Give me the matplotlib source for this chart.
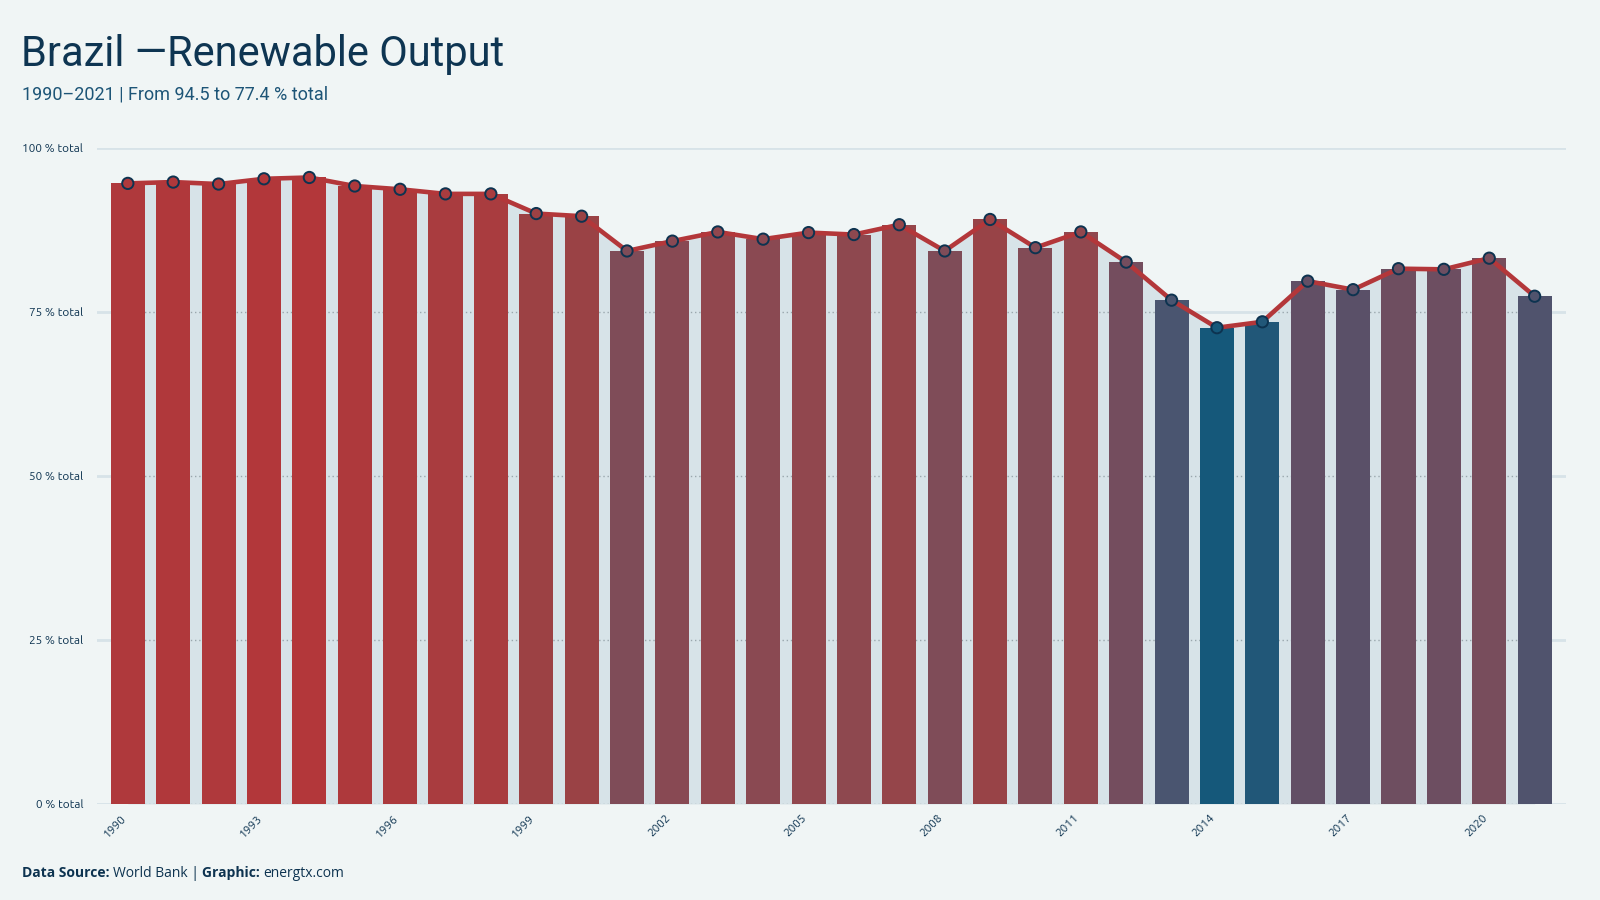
import numpy as np
import matplotlib.pyplot as plt
from matplotlib.colors import LinearSegmentedColormap

years = list(range(1990, 2022))
renewable_share = [94.6, 94.8, 94.5, 95.3, 95.5, 94.2, 93.7, 93.0, 93.0, 90.0,
                   89.6, 84.3, 85.8, 87.2, 86.1, 87.1, 86.8, 88.3, 84.3, 89.1,
                   84.8, 87.2, 82.6, 76.8, 72.6, 73.5, 79.7, 78.4, 81.6, 81.5,
                   83.2, 77.4]
y_ticks = [0, 25, 50, 75, 100]
x_ticks = years[::3]

BG = "#f0f5f5"
LIGHT = "#d7e3e8"
NAVY = "#0d3350"
RED = "#b3373a"

# value -> colour ramp (blue at the low end, red at the top)
ramp = [(0.0, "#15587a"), (0.183, "#4b5570"), (0.253, "#5a5068"),
        (0.437, "#744d5e"), (0.511, "#7f4c58"), (0.638, "#91474e"),
        (0.742, "#9a4245"), (1.0, "#b3373a")]
cmap = LinearSegmentedColormap.from_list("ramp", ramp)

vals = np.array(renewable_share)
norm = (vals - vals.min()) / (vals.max() - vals.min())
bar_colors = [cmap(t) for t in norm]

fig = plt.figure(figsize=(16, 9), dpi=100, facecolor=BG)
ax = fig.add_axes([0.0606, 0.1067, 0.9184, 0.7289])
ax.set_facecolor(BG)

# light gridlines everywhere, dotted ones only inside the area
for yv in y_ticks:
    ax.axhline(yv, color=LIGHT, lw=2, zorder=0.5)

area = ax.fill_between(years, vals, 0, color=LIGHT, lw=0, zorder=1)
clip = area.get_paths()[0]
for yv in y_ticks:
    ln, = ax.plot([years[0] - 1, years[-1] + 1], [yv, yv], color="#9aa7ad",
                  lw=1, ls=(0, (1, 2)), zorder=1.5)
    ln.set_clip_path(clip, transform=ax.transData)

ax.bar(years, vals, width=0.75, color=bar_colors, zorder=2)
ax.plot(years, vals, color=RED, lw=3.3, zorder=3, solid_joinstyle="miter")
ax.scatter(years, vals, s=66, c=bar_colors, edgecolors=NAVY, linewidths=1.4, zorder=4)

ax.set_xlim(years[0] - 0.68, years[-1] + 0.7)
ax.set_ylim(0, 100)
for s in ax.spines.values():
    s.set_visible(False)

tick_font = ["Ubuntu", "Open Sans", "DejaVu Sans"]
ax.set_yticks(y_ticks)
ax.set_yticklabels([f"{v} % total" for v in y_ticks], fontsize=8.5, color=NAVY,
                   family=tick_font)
ax.set_xticks(x_ticks)
ax.set_xticklabels([str(y) for y in x_ticks], rotation=45, ha="right",
                   fontsize=8.5, color=NAVY, family=tick_font)
ax.tick_params(axis="both", length=0)
ax.tick_params(axis="y", pad=10)
ax.tick_params(axis="x", pad=6)

cond = ["Ubuntu Condensed", "Liberation Sans Narrow", "Roboto", "DejaVu Sans"]
fig.text(0.013, 0.927, "Brazil \u2014Renewable Output", fontsize=30, color="#0e3552",
         family=cond, va="baseline")
fig.text(0.0135, 0.889, "1990\u20132021 | From 94.5 to 77.4 % total", fontsize=13,
         color="#1d5577", family=cond, va="baseline")

# footer built piece by piece
renderer = fig.canvas.get_renderer()
x = 0.0135
foot = ["Open Sans", "DejaVu Sans"]
for txt, wt in [("Data Source: ", "bold"), ("World Bank | ", "normal"),
                ("Graphic: ", "bold"), ("energtx.com", "normal")]:
    t = fig.text(x, 0.026, txt, fontsize=10, color=NAVY, weight=wt, family=foot,
                 va="baseline")
    bb = t.get_window_extent(renderer=renderer)
    x += bb.width / fig.bbox.width

fig.savefig("out.png", dpi=100, facecolor=BG)
